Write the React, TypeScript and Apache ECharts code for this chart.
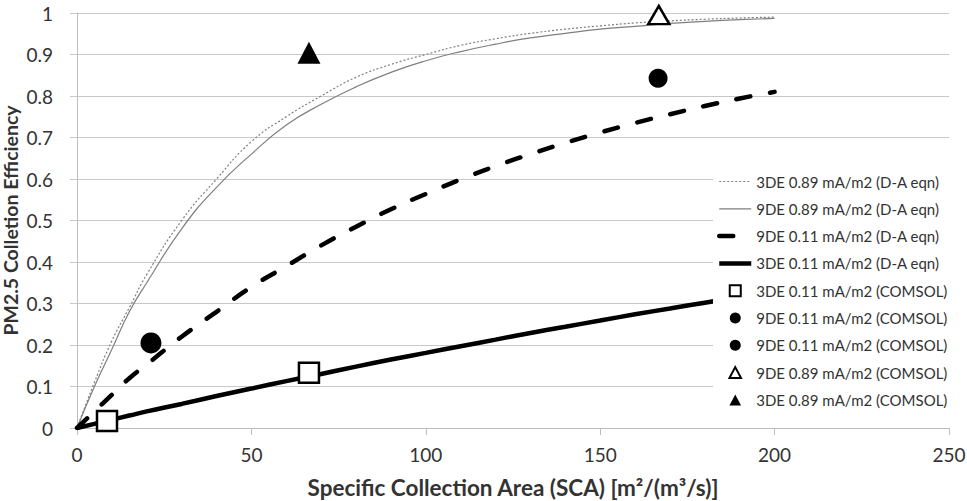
import React, { useEffect, useRef } from 'react';
import * as echarts from 'echarts';

// Curve sample positions (SCA) and efficiencies
const curveX = [0, 5, 10, 15, 20, 30, 40, 50, 60, 70, 80, 90, 100, 110, 120, 130, 140, 150, 160, 170, 180, 190, 200];
const de3High = [0, 0.11, 0.21, 0.29, 0.37, 0.5, 0.6, 0.69, 0.75, 0.8, 0.845, 0.876, 0.9, 0.922, 0.938, 0.951, 0.961, 0.969, 0.976, 0.981, 0.985, 0.988, 0.99];
const de9High = [0, 0.1, 0.19, 0.28, 0.35, 0.48, 0.58, 0.66, 0.73, 0.78, 0.822, 0.857, 0.885, 0.907, 0.925, 0.94, 0.951, 0.961, 0.968, 0.975, 0.98, 0.984, 0.987];
const de9Low = [0, 0.04, 0.08, 0.12, 0.153, 0.22, 0.28, 0.34, 0.39, 0.44, 0.485, 0.527, 0.564, 0.599, 0.631, 0.66, 0.687, 0.712, 0.735, 0.756, 0.776, 0.794, 0.81];
const de3Low = [0, 0.01, 0.02, 0.03, 0.04, 0.058, 0.077, 0.095, 0.113, 0.13, 0.148, 0.165, 0.181, 0.197, 0.213, 0.229, 0.244, 0.259, 0.274, 0.288, 0.302, 0.316, 0.33];

// COMSOL points
const comsol3Low: number[][] = [[8.6, 0.017], [66.5, 0.133]];
const comsol9LowA: number[][] = [[21.2, 0.205]];
const comsol9LowB: number[][] = [[166.6, 0.843]];
const comsol9High: number[][] = [[166.8, 0.995]];
const comsol3High: number[][] = [[66.5, 0.904]];

const names = [
  '3DE 0.89 mA/m2 (D-A eqn)',
  '9DE 0.89 mA/m2 (D-A eqn)',
  '9DE 0.11 mA/m2 (D-A eqn)',
  '3DE 0.11 mA/m2 (D-A eqn)',
  '3DE 0.11 mA/m2 (COMSOL)',
  '9DE 0.11 mA/m2 (COMSOL)',
  '9DE 0.11 mA/m2 (COMSOL) #2',
  '9DE 0.89 mA/m2 (COMSOL)',
  '3DE 0.89 mA/m2 (COMSOL)',
];

const pair = (xs: number[], ys: number[]) => xs.map((x, i) => [x, ys[i]]);

const FONT = 'Lato';
const SQUARE_ICON = 'path://M0,0H10V10H0Z';
const TRIANGLE_ICON = 'path://M5,0L10,9.5L0,9.5Z';

export default function App() {
  const ref = useRef<HTMLDivElement>(null);
  useEffect(() => {
    if (!ref.current) return;
    const chart = echarts.init(ref.current, null, { renderer: 'svg' });
    const lineBase = { type: 'line', symbol: 'none', smooth: true, z: 2 };
    const legendData = [
      { name: names[0], itemStyle: { opacity: 0 }, lineStyle: { width: 1.2 } },
      { name: names[1], itemStyle: { opacity: 0 }, lineStyle: { width: 1.2 } },
      { name: names[2], itemStyle: { opacity: 0 }, lineStyle: { width: 4.5 } },
      { name: names[3], itemStyle: { opacity: 0 }, lineStyle: { width: 4.5 } },
      { name: names[4], icon: SQUARE_ICON },
      { name: names[5], icon: 'circle' },
      { name: names[6], icon: 'circle' },
      { name: names[7], icon: TRIANGLE_ICON },
      { name: names[8], icon: TRIANGLE_ICON },
    ];
    chart.setOption({
      animation: false,
      backgroundColor: '#ffffff',
      textStyle: { fontFamily: FONT },
      grid: { left: 77, right: 18, top: 13, bottom: 73, containLabel: false, outerBoundsMode: 'none' },
      xAxis: {
        type: 'value',
        min: 0,
        max: 250,
        interval: 50,
        name: 'Specific Collection Area (SCA) [m²/(m³/s)]',
        nameLocation: 'middle',
        nameGap: 48,
        nameMoveOverlap: false,
        nameTextStyle: { fontFamily: FONT, fontSize: 22.5, fontWeight: 'bold', color: '#333333' },
        axisLine: { show: true, lineStyle: { color: '#bdbdbd', width: 1 } },
        axisTick: { show: true, inside: false, length: 7, lineStyle: { color: '#bdbdbd' } },
        axisLabel: { fontFamily: FONT, fontSize: 19, color: '#333333', margin: 17 },
        splitLine: { show: false },
      },
      yAxis: {
        type: 'value',
        min: 0,
        max: 1,
        interval: 0.1,
        name: 'PM2.5 Colletion Efficiency',
        nameLocation: 'middle',
        nameRotate: 90,
        nameGap: 57,
        nameMoveOverlap: false,
        nameTextStyle: { fontFamily: FONT, fontSize: 19.5, fontWeight: 'bold', color: '#333333' },
        axisLine: { show: true, lineStyle: { color: '#bdbdbd', width: 1 } },
        axisTick: { show: true, inside: false, length: 7, lineStyle: { color: '#c8c8c8' } },
        axisLabel: {
          fontFamily: FONT,
          fontSize: 19,
          color: '#333333',
          margin: 24,
          formatter: (v: number) => String(+v.toFixed(1)),
        },
        splitLine: { show: true, lineStyle: { color: '#c8c8c8', width: 1 } },
      },
      legend: {
        orient: 'vertical',
        left: 713,
        top: 166,
        padding: [8, 6, 8, 4],
        backgroundColor: '#ffffff',
        itemWidth: 32,
        itemHeight: 11,
        itemGap: 12.3,
        symbolKeepAspect: true,
        data: legendData,
        formatter: (n: string) => n.replace(/ #2$/, ''),
        textStyle: { fontFamily: FONT, fontSize: 15, color: '#333333', lineHeight: 14 },
      },
      series: [
        {
          ...lineBase,
          name: names[0],
          data: pair(curveX, de3High),
          lineStyle: { color: '#7f7f7f', width: 1.2, type: [2, 2] },
          itemStyle: { color: '#7f7f7f' },
        },
        {
          ...lineBase,
          name: names[1],
          data: pair(curveX, de9High),
          lineStyle: { color: '#7f7f7f', width: 1.2, type: 'solid' },
          itemStyle: { color: '#7f7f7f' },
        },
        {
          ...lineBase,
          name: names[2],
          data: pair(curveX, de9Low),
          lineStyle: { color: '#000000', width: 4.5, type: [14, 20], cap: 'round' },
          itemStyle: { color: '#000000' },
        },
        {
          ...lineBase,
          name: names[3],
          data: pair(curveX, de3Low),
          lineStyle: { color: '#000000', width: 4.5, type: 'solid' },
          itemStyle: { color: '#000000' },
        },
        {
          type: 'scatter',
          name: names[4],
          data: comsol3Low,
          symbol: 'rect',
          symbolSize: 20,
          z: 3,
          itemStyle: { color: '#ffffff', borderColor: '#000000', borderWidth: 2.5, opacity: 1 },
        },
        {
          type: 'scatter',
          name: names[5],
          data: comsol9LowA,
          symbol: 'circle',
          symbolSize: 21,
          z: 3,
          itemStyle: { color: '#000000', opacity: 1 },
        },
        {
          type: 'scatter',
          name: names[6],
          data: comsol9LowB,
          symbol: 'circle',
          symbolSize: 19,
          z: 3,
          itemStyle: { color: '#000000', opacity: 1 },
        },
        {
          type: 'scatter',
          name: names[7],
          data: comsol9High,
          symbol: 'triangle',
          symbolSize: [21, 18],
          z: 3,
          itemStyle: { color: '#ffffff', borderColor: '#000000', borderWidth: 2.5, opacity: 1 },
        },
        {
          type: 'scatter',
          name: names[8],
          data: comsol3High,
          symbol: 'triangle',
          symbolSize: [23, 22],
          z: 3,
          itemStyle: { color: '#000000', opacity: 1 },
        },
      ],
    });
    return () => chart.dispose();
  }, []);
  return (
    <div
      ref={ref}
      style={{ position: 'fixed', left: 0, top: 0, width: 967, height: 501, background: '#fff' }}
    />
  );
}
